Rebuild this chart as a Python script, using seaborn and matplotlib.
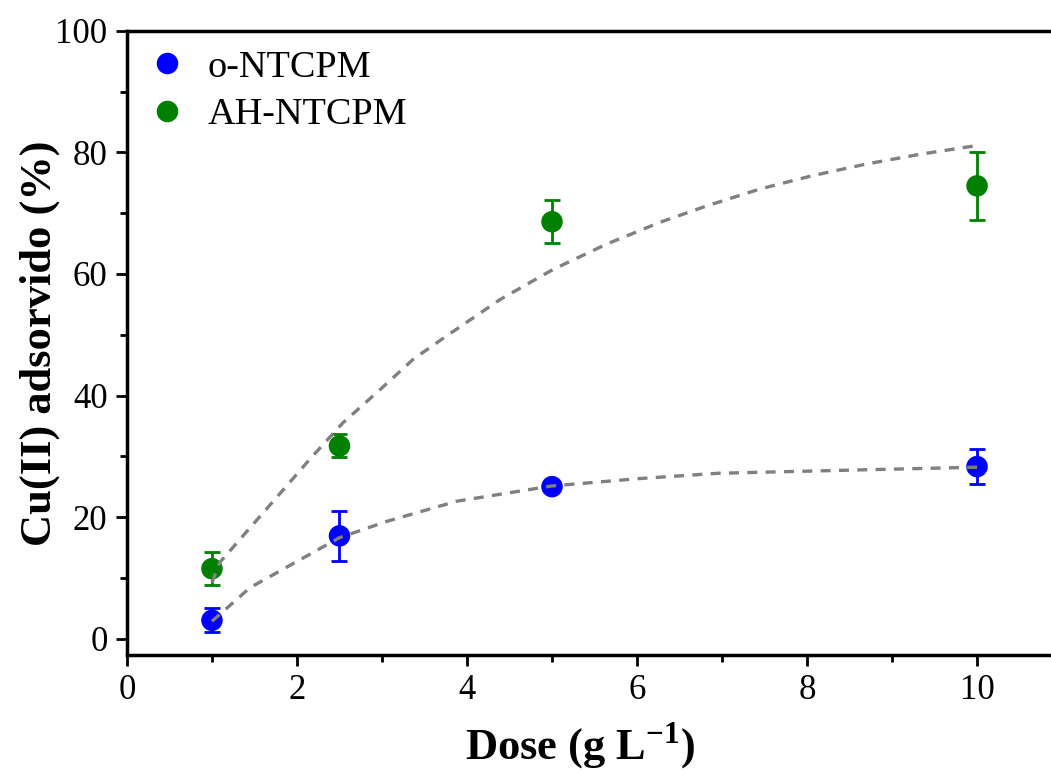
import numpy as np
import pandas as pd
import matplotlib
matplotlib.use("Agg")
import matplotlib.pyplot as plt
import seaborn as sns
from matplotlib.ticker import MultipleLocator

#data
dose = [1, 2.5, 5, 10]
o_ntcpm = [3.0, 16.9, 25.0, 28.3]
o_ntcpm_err = [2.0, 4.1, 0.6, 2.9]
ah_ntcpm = [11.5, 31.7, 68.6, 74.5]
ah_ntcpm_err = [2.7, 1.9, 3.55, 5.65]

#dashed fit curves
fit_o_x = [1.0, 1.45, 2.04, 2.5, 3.06, 3.88, 4.99, 6.0, 6.95, 8.76, 10.0]
fit_o_y = [2.85, 8.4, 13.0, 16.6, 19.3, 22.6, 25.1, 26.3, 27.2, 27.8, 28.2]
fit_ah_x = [1.0, 1.09, 1.64, 2.15, 2.54, 2.98, 3.37, 3.76, 4.39, 5.02, 5.64,
            6.27, 6.82, 7.45, 8.07, 8.70, 9.33, 9.98]
fit_ah_y = [9.2, 12.5, 21.3, 29.5, 35.5, 41.0, 46.0, 49.8, 55.8, 60.8, 64.9,
            68.5, 71.2, 74.0, 76.2, 78.1, 79.7, 81.1]

labels = ["o-NTCPM", "AH-NTCPM"]
colors = ["#0000ff", "#008000"]

df = pd.DataFrame({
    "dose": dose * 2,
    "ads": o_ntcpm + ah_ntcpm,
    "err": o_ntcpm_err + ah_ntcpm_err,
    "sample": [labels[0]] * 4 + [labels[1]] * 4,
})

sns.set_style("ticks")
plt.rcParams["font.family"] = ["Liberation Serif", "DejaVu Serif"]
plt.rcParams["mathtext.fontset"] = "custom"
plt.rcParams["mathtext.rm"] = "Liberation Serif"
plt.rcParams["mathtext.bf"] = "Liberation Serif:bold"
plt.rcParams["text.color"] = "black"
plt.rcParams["axes.labelcolor"] = "black"
plt.rcParams["xtick.color"] = "black"
plt.rcParams["ytick.color"] = "black"
plt.rcParams["axes.edgecolor"] = "black"

fig = plt.figure(figsize=(10.51, 7.73), dpi=100)
ax = fig.add_axes([0.1208, 0.1527, 0.8792, 0.8073])

#fit lines
sns.lineplot(x=fit_o_x, y=fit_o_y, ax=ax, color="#808080", lw=2.4,
             linestyle=(0, (3, 2.5)), sort=False, zorder=4)
sns.lineplot(x=fit_ah_x, y=fit_ah_y, ax=ax, color="#808080", lw=2.4,
             linestyle=(0, (3, 2.5)), sort=False, zorder=4)

#error bars
for lab, col in zip(labels, colors):
    sub = df[df["sample"] == lab]
    ax.errorbar(sub["dose"], sub["ads"], yerr=sub["err"], fmt="none",
                ecolor=col, elinewidth=2, capsize=6, capthick=2, zorder=2)

#points
sns.scatterplot(data=df, x="dose", y="ads", hue="sample", palette=colors,
                s=240, edgecolor="none", ax=ax, zorder=3)

ax.set_xlim(0, 10.87)
ax.set_ylim(-2.7, 100)
ax.xaxis.set_major_locator(MultipleLocator(2))
ax.xaxis.set_minor_locator(MultipleLocator(1))
ax.yaxis.set_major_locator(MultipleLocator(20))
ax.yaxis.set_minor_locator(MultipleLocator(10))
ax.tick_params(which="major", length=8, width=2, labelsize=25, pad=6)
ax.tick_params(which="minor", length=5, width=2)
for s in ["left", "bottom", "top"]:
    ax.spines[s].set_linewidth(2.5)
ax.spines["right"].set_visible(False)

ax.set_xlabel(r"Dose (g L$^{\mathbf{-1}}$)", fontsize=32, fontweight="bold")
ax.set_ylabel("Cu(II) adsorvido (%)", fontsize=32, fontweight="bold")
ax.xaxis.set_label_coords(0.49, -0.105)
ax.yaxis.set_label_coords(-0.073, 0.5)

leg = ax.legend(loc="upper left", frameon=False, fontsize=27.5, markerscale=1.0,
                handlelength=1.0, handletextpad=0.54, borderaxespad=0.16,
                labelspacing=0.33, bbox_to_anchor=(0.0, 1.004))

fig.savefig("out.png", dpi=100)
